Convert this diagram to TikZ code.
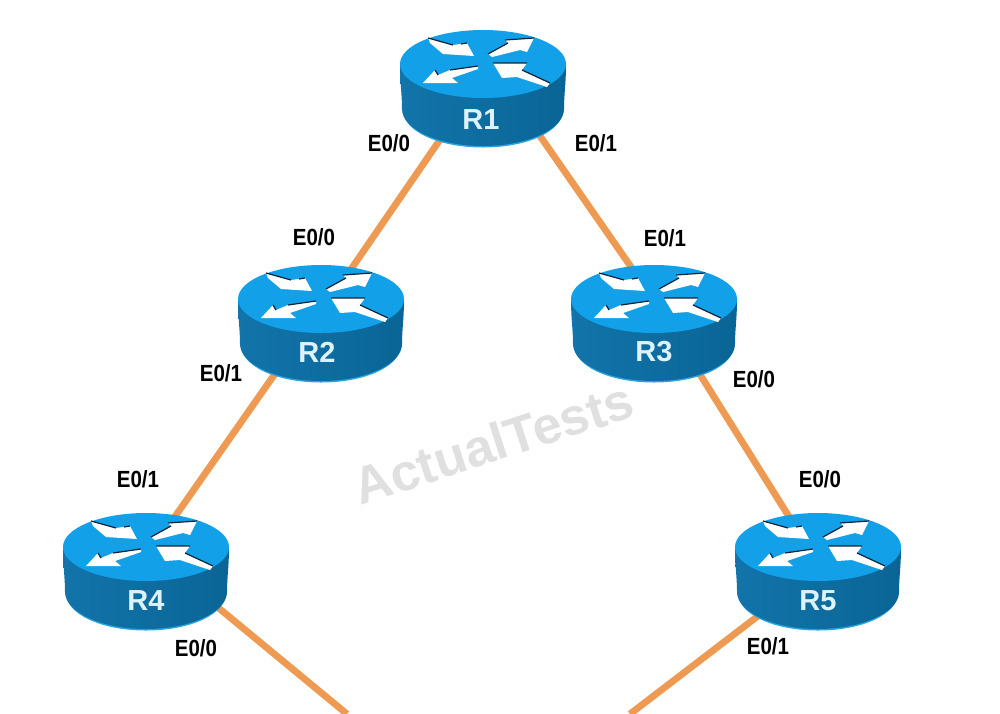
\documentclass[tikz,border=0pt]{standalone}
\usepackage{fontspec}
\setmainfont{Liberation Sans}
\definecolor{linkc}{HTML}{EE9A52}
\definecolor{topc}{HTML}{12A0E8}
\definecolor{bodyl}{HTML}{1274AA}
\definecolor{bodym}{HTML}{1488C8}
\definecolor{bodyr}{HTML}{0A6596}
\definecolor{rimc}{HTML}{2AA5E0}
\definecolor{edgec}{HTML}{0B2338}
\definecolor{markc}{HTML}{E0E0E0}
\definecolor{namec}{HTML}{DDF2FB}
\tikzset{
  link/.style={draw=linkc,line width=6.8pt},
  portlabel/.style={font=\fontsize{20.5}{24}\selectfont\bfseries,text=black,inner sep=0pt,transform shape,yscale=1.14},
  routername/.style={font=\fontsize{29}{32}\selectfont\bfseries,text=namec,inner sep=0pt},
  watermark/.style={font=\fontsize{52}{56}\selectfont\bfseries,text=markc,inner sep=0pt,rotate=18},
  arrowfill/.style={fill=white,draw=none},
  arrowedge/.style={draw=edgec,line width=1.2pt},
  routerpic/.pic={
    \fill[rimc] (-82,0) -- (-80,46) .. controls (-80,67) and (-45,83.5) .. (0,83.5)
       .. controls (45,83.5) and (80,67) .. (80,46) -- (82,0) -- cycle;
    \shade[left color=bodyl,middle color=bodym,right color=bodyr]
      (-83,0) .. controls (-83,20) and (-81,30) .. (-81,45) .. controls (-81,65) and (-45,82) .. (0,82)
       .. controls (45,82) and (81,65) .. (81,45) .. controls (81,30) and (83,20) .. (83,0) -- cycle;
    \fill[topc] (0,0) ellipse [x radius=83,y radius=34];
    \fill[arrowfill] (-55,-26) -- (-30,-19) -- (-16,-21) -- (-9,-8) -- (-40,-10) -- (-53,-21) -- cycle;
    \draw[arrowedge] (-55,-26) -- (-30,-19) (-22,-20) -- (-16,-21);
    \fill[arrowfill] (5,-10) -- (25,-21) -- (22,-24) -- (51,-26) -- (44,-12) -- (37,-14) -- (9,-7) -- cycle;
    \draw[arrowedge] (5,-10) -- (25,-21) (22,-24) -- (51,-26);
    \fill[arrowfill] (-5,2) -- (-33,6) -- (-45,11) -- (-48,6) -- (-60,19) -- (-25,19) -- (-31,14) -- (-5,5) -- cycle;
    \draw[arrowedge] (-5,2) -- (-33,6) (-45,11) -- (-48,6);
    \fill[arrowfill] (10,-1) -- (44,-1) -- (39,6) -- (67,19) -- (64,23) -- (34,13) -- (19,14) -- cycle;
    \draw[arrowedge] (10,-1) -- (44,-1) (39,6) -- (67,19);
  }
}
\begin{document}
\begin{tikzpicture}[x=1pt,y=-1pt]
\useasboundingbox (0,0) rectangle (1000,713);
% hidden ends of the links, under the routers
\coordinate (R1w) at (483,77);
\coordinate (R1e) at (483,54);
\coordinate (R2n) at (321,313);
\coordinate (R2s) at (321,308);
\coordinate (R3n) at (654,300);
\coordinate (R3s) at (654,301);
\coordinate (R4n) at (146,558);
\coordinate (R4s) at (146,548);
\coordinate (R5n) at (818,563);
\coordinate (R5s) at (818,570);
\coordinate (cutL) at (347,714);
\coordinate (cutR) at (630,714);
\draw[link] (R1w) -- (R2n);
\draw[link] (R1e) -- (R3n);
\draw[link] (R2s) -- (R4n);
\draw[link] (R3s) -- (R5n);
\draw[link] (R4s) -- (cutL);
\draw[link] (R5s) -- (cutR);
\pic at (483,64) {routerpic};
\pic at (321,299) {routerpic};
\pic at (654,299) {routerpic};
\pic at (146,547) {routerpic};
\pic at (818,547) {routerpic};
\node[routername] (R1) at (481,120) {R1};
\node[routername] (R2) at (317,352) {R2};
\node[routername] (R3) at (654,352) {R3};
\node[routername] (R4) at (146,601) {R4};
\node[routername] (R5) at (818,601) {R5};
\node[portlabel] (l1a) at (389,143) {E0/0};
\node[portlabel] (l1b) at (596,143) {E0/1};
\node[portlabel] (l2a) at (314,237) {E0/0};
\node[portlabel] (l2b) at (221,373) {E0/1};
\node[portlabel] (l3a) at (665,238) {E0/1};
\node[portlabel] (l3b) at (754,379) {E0/0};
\node[portlabel] (l4a) at (138,479) {E0/1};
\node[portlabel] (l4b) at (196,648) {E0/0};
\node[portlabel] (l5a) at (820,479) {E0/0};
\node[portlabel] (l5b) at (768,646) {E0/1};
\node[watermark] (mark) at (493,443) {ActualTests};
\end{tikzpicture}
\end{document}
